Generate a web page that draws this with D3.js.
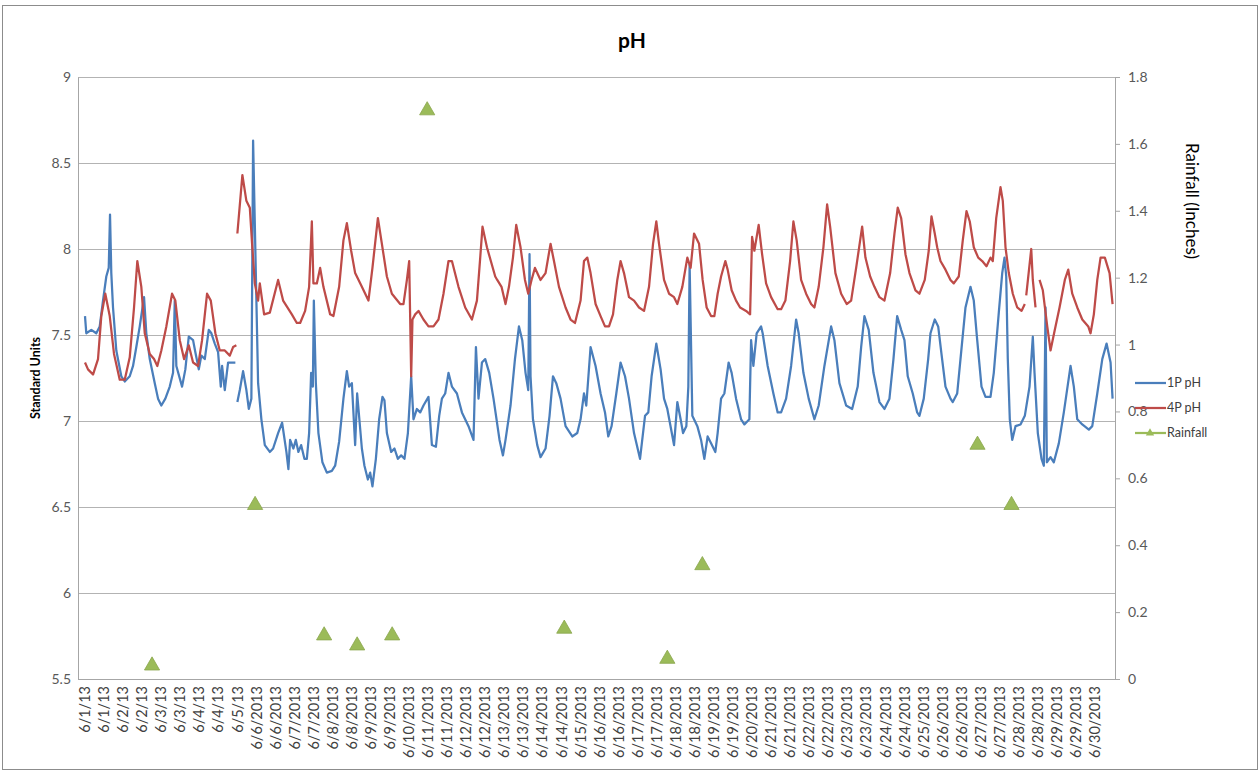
<!DOCTYPE html>
<html><head><meta charset="utf-8">
<script src="https://cdn.jsdelivr.net/npm/d3@7/dist/d3.min.js"></script>
<style>body{margin:0;background:#fff}svg{display:block}</style>
</head><body>
<svg id="chart" width="1259" height="772"></svg>
<script>
// ---------------- DATA ----------------
const xTickLabels = ["6/1/13","6/1/13","6/2/13","6/2/13","6/3/13","6/3/13","6/4/13","6/4/13","6/5/13",
"6/6/2013","6/6/2013","6/7/2013","6/7/2013","6/8/2013","6/8/2013","6/9/2013","6/9/2013","6/10/2013",
"6/11/2013","6/11/2013","6/12/2013","6/12/2013","6/13/2013","6/13/2013","6/14/2013","6/14/2013","6/15/2013",
"6/16/2013","6/16/2013","6/17/2013","6/17/2013","6/18/2013","6/18/2013","6/19/2013","6/19/2013","6/20/2013",
"6/21/2013","6/21/2013","6/22/2013","6/22/2013","6/23/2013","6/23/2013","6/24/2013","6/24/2013","6/25/2013",
"6/26/2013","6/26/2013","6/27/2013","6/27/2013","6/28/2013","6/28/2013","6/29/2013","6/29/2013","6/30/2013"];
const labelStepHours = 40/3; // one category label every 13.33 h

const leftTicks = [5.5,6,6.5,7,7.5,8,8.5,9];
const rightTicks = [0,0.2,0.4,0.6,0.8,1,1.2,1.4,1.6,1.8];

// hours since 6/1 00:00
const hours1P = [0,0.9,4.4,7.9,10.3,12.6,14.9,16.6,17.5,18.4,19.6,21.9,25.4,27.8,31.3,33.6,35.9,38.3,41.3,42.9,45.3,48.8,51.1,53.4,56.2,59.3,61.6,62.8,63.9,67.9,70.2,72.6,75.6,77.2,79.6,81.4,83.8,86.6,88.4,90.8,93.1,95.0,95.9,97.8,100.1,105.2,106,
106.6,108.3,110.6,112.9,114.6,116.4,117.6,121.1,123.4,125.8,129.3,131.6,135.1,137.9,140.9,142.3,143.5,145.8,147.5,149.3,151.2,153.5,155.2,156.8,158.2,159.4,160.1,161.5,163.3,166.1,169.2,172.7,175.0,177.8,180.8,183.2,184.8,186.7,189.0,190.4,193.7,195.5,197.9,199.5,201.1,203.5,205.8,208.1,209.5,211.2,214.2,216.5,218.9,221.2,223.5,225.9,228.2,229.8,232.2,234.5,236.8,240.3,242.7,245.5,247.8,249.7,252.0,254.3,256.7,260.2,263.7,268.3,271.8,273.5,275.3,277.7,280.0,282.8,285.8,287.2,290.0,292.4,294.2,297.7,300.8,303.6,305.9,308.2,310.1,311.0,311.7,313.4,316.4,318.7,322.2,325.0,327.4,329.7,332.7,336.2,340.9,344.4,346.7,349.1,350.7,353.7,357.2,360.7,363.8,366.1,368.4,371.7,374.7,377.8,380.6,384.1,388.3,391.8,394.1,396.4,399.7,402.7,405.1,407.4,412.1,414.4,416.7,418.4,420.7,422.1,423.0,424.9,428.4,431.0,433.3,435.6,438.0,441.0,442.6,445.0,447.3,450.3,452.4,455.5,459.0,461.3,464.8,466.0,467.6,469.9,473.0,474.1,477.6,481.6,484.6,487.0,490.5,494.0,497.5,499.3,502.6,506.3,510.3,513.3,517.3,522.0,524.3,527.8,532.5,536.7,540.6,543.0,545.3,548.3,551.6,555.8,559.3,562.8,565.6,568.2,571.0,573.3,575.6,579.1,582.2,583.8,586.8,589.9,591.5,594.5,596.9,599.2,602.0,605.5,607.1,610.2,612.5,616.0,619.5,621.8,624.2,627.2,630.0,633.5,635.8,639.3,641.7,643.3,644.5,645.6,647.0,648.7,651.0,654.5,657.5,660.8,663.1,664.3,666.6,669.2,670.8,672.0,672.9,675.5,677.8,681.3,684.8,689.5,691.8,694.2,697.7,702.3,704.7,708.2,711.7,714.7,717.5,718.9];
const ph1P = [7.61,7.51,7.53,7.51,7.55,7.70,7.84,7.89,8.20,7.86,7.66,7.41,7.26,7.23,7.26,7.32,7.43,7.55,7.72,7.51,7.36,7.22,7.13,7.09,7.13,7.20,7.28,7.70,7.32,7.20,7.30,7.49,7.47,7.40,7.30,7.38,7.36,7.53,7.51,7.45,7.40,7.20,7.32,7.18,7.34,7.34,null,
7.11,7.18,7.29,7.18,7.07,7.13,8.63,7.22,7.01,6.86,6.82,6.84,6.93,6.99,6.82,6.72,6.89,6.84,6.89,6.82,6.86,6.78,6.78,6.93,7.28,7.20,7.70,7.22,6.93,6.76,6.70,6.71,6.74,6.88,7.13,7.29,7.20,7.22,6.86,7.16,6.84,6.74,6.66,6.70,6.62,6.78,7.01,7.14,7.12,6.93,6.82,6.84,6.78,6.80,6.78,6.93,7.26,7.01,7.07,7.05,7.09,7.14,6.86,6.85,7.03,7.13,7.16,7.28,7.20,7.16,7.05,6.97,6.89,7.43,7.13,7.34,7.36,7.28,7.13,7.05,6.89,6.80,6.89,7.09,7.36,7.55,7.47,7.28,7.18,7.97,7.26,7.01,6.86,6.79,6.84,7.03,7.26,7.22,7.13,6.97,6.91,6.93,7.01,7.16,7.09,7.43,7.32,7.16,7.05,6.91,6.97,7.16,7.34,7.26,7.13,6.93,6.78,7.03,7.05,7.26,7.45,7.30,7.13,7.07,6.86,7.11,7.01,6.93,6.97,7.20,7.91,7.03,6.97,6.89,6.78,6.91,6.87,6.82,6.93,7.13,7.16,7.34,7.28,7.13,7.01,6.98,7.01,7.47,7.32,7.51,7.55,7.51,7.32,7.16,7.05,7.05,7.13,7.32,7.59,7.51,7.28,7.13,7.01,7.09,7.32,7.55,7.47,7.22,7.09,7.07,7.20,7.43,7.61,7.53,7.28,7.11,7.07,7.13,7.36,7.61,7.53,7.47,7.26,7.16,7.05,7.03,7.13,7.36,7.51,7.59,7.55,7.39,7.20,7.13,7.11,7.16,7.36,7.66,7.78,7.70,7.47,7.20,7.14,7.14,7.28,7.63,7.86,7.95,7.84,7.36,7.01,6.89,6.97,6.98,7.03,7.20,7.49,7.28,6.93,6.78,6.74,7.66,6.76,6.79,6.76,6.87,7.05,7.32,7.20,7.01,6.98,6.95,6.97,7.16,7.36,7.45,7.34,7.13];

const hours4P = [0,2.1,5.6,9.1,11.4,14.2,17.3,20.3,24.3,27.8,31.3,34.3,36.6,39.4,41.8,45.3,48.3,50.6,53.4,56.9,60.9,63.2,66.3,69.3,72.6,75.6,79.1,81.9,85.4,88.0,91.2,94.3,97.8,101.3,103.6,105.9,106.2,
106.6,110.1,112.9,115.3,116.9,118.8,121.1,122.3,125.3,129.3,135.1,138.6,144.7,148.2,150.5,154.0,156.8,158.7,159.8,162.2,164.5,166.8,171.5,173.8,177.8,180.8,183.2,186.2,189.0,193.7,198.3,201.1,204.9,207.7,211.2,214.7,220.5,222.8,225.2,226.8,228.2,229.1,231.0,233.3,236.8,240.3,243.8,247.3,250.8,254.3,256.7,261.3,266.0,270.7,274.2,276.5,278.1,281.2,287.0,288.4,291.4,294.2,296.6,299.4,301.7,304.7,307.8,310.1,312.4,314.8,318.7,322.2,325.7,328.1,331.6,336.2,339.7,342.8,346.7,349.1,351.4,353.7,357.2,360.7,363.8,366.6,369.4,372.4,374.7,377.1,380.6,384.1,387.6,391.1,394.6,397.4,399.7,401.6,405.1,408.6,412.1,414.4,417.9,421.4,423.7,426.1,429.6,432.1,434.9,438.0,440.3,442.6,445.0,448.0,449.6,452.4,455.5,458.3,462.5,465.3,466.7,468.3,471.3,473.7,476.5,480.0,484.6,487.0,490.0,493.3,495.6,497.9,501.0,504.5,508.0,510.3,513.3,516.6,519.2,521.3,525.0,529.0,532.9,536.0,539.5,543.7,546.0,549.3,552.3,555.8,559.3,563.3,566.3,568.6,571.0,574.0,576.8,581.0,583.8,587.5,590.3,592.2,594.5,596.2,598.5,602.0,605.5,607.8,611.3,614.1,616.7,619.0,621.8,624.9,627.7,630.7,633.5,635.1,637.5,640.5,642.1,644.0,646.3,649.1,652.2,655.2,657.5,658.0,
658.5,662.0,663.1,665.0,666.4,
667.8,670.1,673.2,675.5,678.5,681.8,685.5,687.9,690.7,694.2,697.7,701.9,703.5,705.8,708.2,710.5,713.5,716.8,718.9];
const ph4P = [7.34,7.30,7.27,7.36,7.61,7.74,7.61,7.39,7.24,7.24,7.37,7.66,7.93,7.78,7.51,7.39,7.36,7.32,7.41,7.55,7.74,7.70,7.47,7.36,7.44,7.34,7.32,7.47,7.74,7.70,7.51,7.41,7.41,7.38,7.43,7.44,null,
8.09,8.43,8.28,8.24,8.03,7.80,7.70,7.80,7.62,7.63,7.82,7.70,7.62,7.57,7.57,7.64,7.78,8.16,7.80,7.80,7.89,7.78,7.62,7.61,7.78,8.05,8.15,7.99,7.86,7.78,7.70,7.89,8.18,8.03,7.84,7.74,7.68,7.68,7.82,7.93,7.26,7.59,7.62,7.64,7.59,7.55,7.55,7.59,7.74,7.93,7.93,7.78,7.66,7.59,7.70,7.95,8.13,8.01,7.84,7.82,7.78,7.68,7.78,7.95,8.14,8.01,7.82,7.74,7.82,7.89,7.82,7.86,8.03,7.93,7.78,7.66,7.59,7.57,7.70,7.93,7.95,7.86,7.68,7.61,7.55,7.55,7.62,7.82,7.93,7.86,7.72,7.70,7.66,7.64,7.78,8.03,8.16,8.03,7.82,7.74,7.72,7.68,7.78,7.95,7.89,8.09,8.03,7.82,7.66,7.61,7.61,7.74,7.84,7.93,7.88,7.76,7.70,7.66,7.64,7.62,8.07,7.99,8.14,7.97,7.80,7.72,7.65,7.65,7.70,7.93,8.16,8.05,7.82,7.74,7.68,7.66,7.78,8.01,8.26,8.13,7.86,7.74,7.68,7.70,7.89,8.13,7.95,7.84,7.78,7.72,7.70,7.86,8.09,8.24,8.18,7.97,7.86,7.76,7.74,7.82,7.99,8.19,8.09,8.01,7.93,7.88,7.82,7.80,7.84,8.05,8.22,8.16,8.01,7.95,7.93,7.90,7.95,7.93,8.18,8.36,8.28,8.01,7.86,7.74,7.66,7.64,7.68,null,
7.73,8.00,7.82,7.66,null,
7.82,7.76,7.55,7.41,7.53,7.66,7.82,7.88,7.74,7.66,7.59,7.55,7.51,7.62,7.82,7.95,7.95,7.86,7.68];

const rainHours = [46.9,119.0,167.3,190.4,214.9,239.4,335.3,407.4,431.9,624.4,648.2];
const rainInches = [0.04,0.52,0.13,0.10,0.13,1.70,0.15,0.06,0.34,0.70,0.52];

const seriesNames = ["1P pH","4P pH","Rainfall"];
const seriesColors = ["#4a7ebb","#be4b48","#9bbb59"];

// ---------------- CHART ----------------
const svg = d3.select("#chart");
const W = 1259, H = 772;
const plot = {left:78, right:1115, top:77, bottom:679};
const FONT = "Lato, 'Open Sans', sans-serif";

svg.append("rect").attr("width",W).attr("height",H).attr("fill","#fff");
svg.append("rect").attr("x",2.5).attr("y",5.5).attr("width",W-4).attr("height",H-8)
  .attr("fill","none").attr("stroke","#8c8c8c").attr("stroke-width",1);

const x = d3.scaleLinear().domain([-4.9, 720.6]).range([plot.left, plot.right]);
const yL = d3.scaleLinear().domain([5.5, 9]).range([plot.bottom, plot.top]);
const yR = d3.scaleLinear().domain([0, 1.8]).range([plot.bottom, plot.top]);

// gridlines
svg.append("g").selectAll("line").data(leftTicks.filter(t=>t>5.5)).join("line")
  .attr("x1",plot.left).attr("x2",plot.right)
  .attr("y1",d=>Math.round(yL(d))+0.5).attr("y2",d=>Math.round(yL(d))+0.5)
  .attr("stroke","#b3b3b3").attr("stroke-width",1);

// left axis
const gL = svg.append("g").attr("transform",`translate(${plot.left},0)`)
  .call(d3.axisLeft(yL).tickValues(leftTicks).tickSize(0).tickPadding(7).tickFormat(d3.format("")));
gL.select(".domain").attr("stroke","#a6a6a6");
gL.selectAll("text").attr("font-family",FONT).attr("font-size",14).attr("fill","#595959");

// right axis
const gR = svg.append("g").attr("transform",`translate(${plot.right},0)`)
  .call(d3.axisRight(yR).tickValues(rightTicks).tickSize(5).tickPadding(8).tickFormat(d3.format("")));
gR.select(".domain").attr("stroke","#a6a6a6");
gR.selectAll("line").attr("stroke","#a6a6a6");
gR.selectAll("text").attr("font-family",FONT).attr("font-size",14).attr("fill","#595959");

// bottom axis line
svg.append("line").attr("x1",plot.left).attr("x2",plot.right)
  .attr("y1",plot.bottom+0.5).attr("y2",plot.bottom+0.5).attr("stroke","#a6a6a6");

// x tick labels (rotated)
const xLabelScale = d3.scalePoint().domain(d3.range(xTickLabels.length))
  .range([x(0), x((xTickLabels.length-1)*labelStepHours)]);
svg.append("g").selectAll("text").data(xTickLabels).join("text")
  .attr("transform",(d,i)=>`translate(${xLabelScale(i)},${plot.bottom+7}) rotate(-90)`)
  .attr("text-anchor","end").attr("dy","0.35em")
  .attr("font-family",FONT).attr("font-size",14.5).attr("fill","#404040")
  .text(d=>d);

// lines
function drawLine(hours, vals, color){
  const pts = hours.map((h,i)=>({h, v:vals[i]}));
  const line = d3.line().defined(d=>d.v!==null).x(d=>x(d.h)).y(d=>yL(d.v));
  svg.append("path").datum(pts).attr("d",line).attr("fill","none")
    .attr("stroke",color).attr("stroke-width",2.25).attr("stroke-linejoin","round");
}
drawLine(hours1P, ph1P, seriesColors[0]);
drawLine(hours4P, ph4P, seriesColors[1]);

// rainfall markers
const tri = d3.symbol().type(d3.symbolTriangle).size(100);
svg.append("g").selectAll("path").data(rainHours.map((h,i)=>({h,v:rainInches[i]}))).join("path")
  .attr("d",tri).attr("transform",d=>`translate(${x(d.h)},${yR(d.v)})`)
  .attr("fill",seriesColors[2]).attr("stroke","#8aa64c").attr("stroke-width",0.8);

// title
svg.append("text").attr("x",632).attr("y",48).attr("text-anchor","middle")
  .attr("font-family",FONT).attr("font-weight","bold").attr("font-size",21).attr("fill","#000").text("pH");

// axis titles
svg.append("text").attr("transform",`translate(40,378) rotate(-90)`).attr("text-anchor","middle")
  .attr("font-family",FONT).attr("font-weight","bold").attr("font-size",12.5).attr("fill","#000").text("Standard Units");
svg.append("text").attr("transform",`translate(1186,201) rotate(90)`).attr("text-anchor","middle")
  .attr("font-family",FONT).attr("font-size",17).attr("fill","#000").text("Rainfall (Inches)");

// legend
const lg = svg.append("g");
seriesNames.forEach((n,i)=>{
  const yy = 383 + i*25;
  lg.append("line").attr("x1",1135).attr("x2",1166).attr("y1",yy).attr("y2",yy)
    .attr("stroke",seriesColors[i]).attr("stroke-width",2.25);
  if(i===2){
    lg.append("path").attr("d",d3.symbol().type(d3.symbolTriangle).size(30))
      .attr("transform",`translate(1150,${yy})`).attr("fill",seriesColors[2]);
  }
  lg.append("text").attr("x",1167).attr("y",yy).attr("dy","0.35em")
    .attr("font-family",FONT).attr("font-size",12.5).attr("fill","#404040").text(n);
});
</script>
</body></html>
